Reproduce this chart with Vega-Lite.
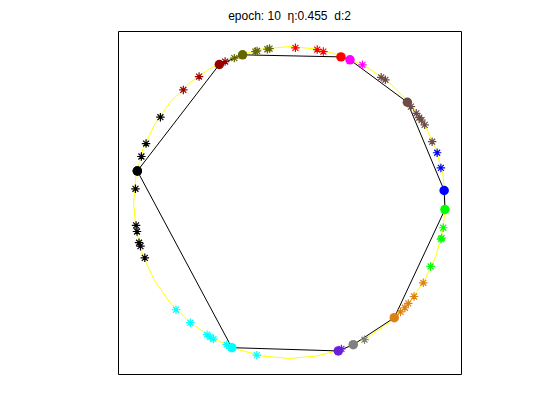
{
  "$schema": "https://vega.github.io/schema/vega-lite/v6.json",
  "width": 343,
  "height": 343,
  "autosize": {"type": "none"},
  "padding": {"left": 118, "top": 31, "right": 99, "bottom": 46},
  "background": "white",
  "title": {
    "text": "epoch: 10\u00a0\u00a0η:0.455\u00a0\u00a0d:2",
    "font": "Liberation Sans",
    "fontSize": 12,
    "fontWeight": "normal",
    "color": "black",
    "anchor": "middle",
    "baseline": "alphabetic",
    "offset": -1
  },
  "config": {
    "view": {"stroke": "black", "strokeWidth": 1},
    "legend": {"disable": true}
  },
  "datasets": {
    "ring": [
      {"i": 0, "x": 1, "y": 0}, {"i": 1, "x": 0.985, "y": 0.174}, {"i": 2, "x": 0.94, "y": 0.342},
      {"i": 3, "x": 0.866, "y": 0.5}, {"i": 4, "x": 0.766, "y": 0.643}, {"i": 5, "x": 0.643, "y": 0.766},
      {"i": 6, "x": 0.5, "y": 0.866}, {"i": 7, "x": 0.342, "y": 0.94}, {"i": 8, "x": 0.174, "y": 0.985},
      {"i": 9, "x": 0, "y": 1}, {"i": 10, "x": -0.174, "y": 0.985}, {"i": 11, "x": -0.342, "y": 0.94},
      {"i": 12, "x": -0.5, "y": 0.866}, {"i": 13, "x": -0.643, "y": 0.766}, {"i": 14, "x": -0.766, "y": 0.643},
      {"i": 15, "x": -0.866, "y": 0.5}, {"i": 16, "x": -0.94, "y": 0.342}, {"i": 17, "x": -0.985, "y": 0.174},
      {"i": 18, "x": -1, "y": 0}, {"i": 19, "x": -0.985, "y": -0.174}, {"i": 20, "x": -0.94, "y": -0.342},
      {"i": 21, "x": -0.866, "y": -0.5}, {"i": 22, "x": -0.766, "y": -0.643}, {"i": 23, "x": -0.643, "y": -0.766},
      {"i": 24, "x": -0.5, "y": -0.866}, {"i": 25, "x": -0.342, "y": -0.94}, {"i": 26, "x": -0.174, "y": -0.985},
      {"i": 27, "x": 0, "y": -1}, {"i": 28, "x": 0.174, "y": -0.985}, {"i": 29, "x": 0.342, "y": -0.94},
      {"i": 30, "x": 0.5, "y": -0.866}, {"i": 31, "x": 0.643, "y": -0.766}, {"i": 32, "x": 0.766, "y": -0.643},
      {"i": 33, "x": 0.866, "y": -0.5}, {"i": 34, "x": 0.94, "y": -0.342}, {"i": 35, "x": 0.985, "y": -0.174},
      {"i": 36, "x": 1, "y": 0}
    ],
    "nodes": [
      {"i": 1, "k": 1, "x": -0.976, "y": 0.202},
      {"i": 2, "k": 2, "x": -0.45, "y": 0.885},
      {"i": 3, "k": 3, "x": -0.301, "y": 0.947},
      {"i": 4, "k": 4, "x": 0.33, "y": 0.934},
      {"i": 5, "k": 5, "x": 0.388, "y": 0.915},
      {"i": 6, "k": 6, "x": 0.756, "y": 0.643},
      {"i": 7, "k": 7, "x": 0.992, "y": 0.077},
      {"i": 8, "k": 8, "x": 0.997, "y": -0.045},
      {"i": 9, "k": 9, "x": 0.672, "y": -0.739},
      {"i": 10, "k": 10, "x": 0.409, "y": -0.912},
      {"i": 11, "k": 11, "x": 0.313, "y": -0.952},
      {"i": 12, "k": 12, "x": -0.37, "y": -0.931},
      {"i": 13, "k": 1, "x": -0.976, "y": 0.202}
    ],
    "samples": [
      {"k": 1, "x": -0.828, "y": 0.547}, {"k": 1, "x": -0.92, "y": 0.378}, {"k": 1, "x": -0.95, "y": 0.295},
      {"k": 1, "x": -0.988, "y": 0.088}, {"k": 1, "x": -0.984, "y": -0.147}, {"k": 1, "x": -0.978, "y": -0.186},
      {"k": 1, "x": -0.965, "y": -0.258}, {"k": 1, "x": -0.956, "y": -0.28}, {"k": 1, "x": -0.928, "y": -0.355},
      {"k": 2, "x": -0.58, "y": 0.808}, {"k": 2, "x": -0.681, "y": 0.722}, {"k": 2, "x": -0.413, "y": 0.904},
      {"k": 3, "x": -0.354, "y": 0.926}, {"k": 3, "x": -0.219, "y": 0.968}, {"k": 3, "x": -0.208, "y": 0.972},
      {"k": 3, "x": -0.142, "y": 0.983}, {"k": 3, "x": -0.128, "y": 0.987},
      {"k": 4, "x": 0.038, "y": 0.992}, {"k": 4, "x": 0.178, "y": 0.981}, {"k": 4, "x": 0.217, "y": 0.968},
      {"k": 5, "x": 0.468, "y": 0.883},
      {"k": 6, "x": 0.588, "y": 0.803}, {"k": 6, "x": 0.615, "y": 0.787}, {"k": 6, "x": 0.779, "y": 0.615},
      {"k": 6, "x": 0.813, "y": 0.572}, {"k": 6, "x": 0.832, "y": 0.545}, {"k": 6, "x": 0.847, "y": 0.529},
      {"k": 6, "x": 0.867, "y": 0.498}, {"k": 6, "x": 0.915, "y": 0.39},
      {"k": 7, "x": 0.947, "y": 0.319}, {"k": 7, "x": 0.971, "y": 0.222},
      {"k": 8, "x": 0.986, "y": -0.162}, {"k": 8, "x": 0.971, "y": -0.235}, {"k": 8, "x": 0.976, "y": -0.228},
      {"k": 8, "x": 0.905, "y": -0.41},
      {"k": 9, "x": 0.858, "y": -0.515}, {"k": 9, "x": 0.799, "y": -0.603}, {"k": 9, "x": 0.762, "y": -0.647},
      {"k": 9, "x": 0.74, "y": -0.675}, {"k": 9, "x": 0.712, "y": -0.702},
      {"k": 10, "x": 0.481, "y": -0.88},
      {"k": 11, "x": 0.333, "y": -0.939},
      {"k": 12, "x": -0.728, "y": -0.688}, {"k": 12, "x": -0.636, "y": -0.771}, {"k": 12, "x": -0.529, "y": -0.848},
      {"k": 12, "x": -0.508, "y": -0.863}, {"k": 12, "x": -0.488, "y": -0.876}, {"k": 12, "x": -0.403, "y": -0.912},
      {"k": 12, "x": -0.21, "y": -0.979}
    ]
  },
  "encoding": {
    "x": {"field": "x", "type": "quantitative", "axis": null, "scale": {"domain": [-1.1, 1.1], "nice": false, "zero": false}},
    "y": {"field": "y", "type": "quantitative", "axis": null, "scale": {"domain": [-1.1, 1.1], "nice": false, "zero": false}}
  },
  "layer": [
    {
      "data": {"name": "ring"},
      "mark": {"type": "line", "color": "#ffff00", "strokeWidth": 1, "clip": true},
      "encoding": {"order": {"field": "i", "type": "quantitative"}}
    },
    {
      "data": {"name": "nodes"},
      "mark": {"type": "line", "color": "black", "strokeWidth": 1},
      "encoding": {"order": {"field": "i", "type": "quantitative"}}
    },
    {
      "data": {"name": "samples"},
      "mark": {
        "type": "point",
        "shape": "M-1,0L1,0M0,-1L0,1M-0.7,-0.7L0.7,0.7M-0.7,0.7L0.7,-0.7",
        "filled": false,
        "size": 72,
        "strokeWidth": 1.2,
        "opacity": 1
      },
      "encoding": {
        "stroke": {
          "field": "k", "type": "nominal",
          "scale": {
            "domain": [1, 2, 3, 4, 5, 6, 7, 8, 9, 10, 11, 12],
            "range": ["#000000", "#990000", "#666600", "#ff0000", "#ff00ff", "#6e4b44", "#0000ff", "#00ff00", "#dd8012", "#808080", "#6a1fd8", "#00ffff"]
          },
          "legend": null
        }
      }
    },
    {
      "data": {"name": "nodes"},
      "mark": {"type": "point", "shape": "circle", "filled": true, "size": 90, "opacity": 1, "strokeWidth": 0},
      "encoding": {
        "fill": {
          "field": "k", "type": "nominal",
          "scale": {
            "domain": [1, 2, 3, 4, 5, 6, 7, 8, 9, 10, 11, 12],
            "range": ["#000000", "#990000", "#666600", "#ff0000", "#ff00ff", "#6e4b44", "#0000ff", "#00ff00", "#dd8012", "#808080", "#6a1fd8", "#00ffff"]
          },
          "legend": null
        }
      }
    }
  ]
}
